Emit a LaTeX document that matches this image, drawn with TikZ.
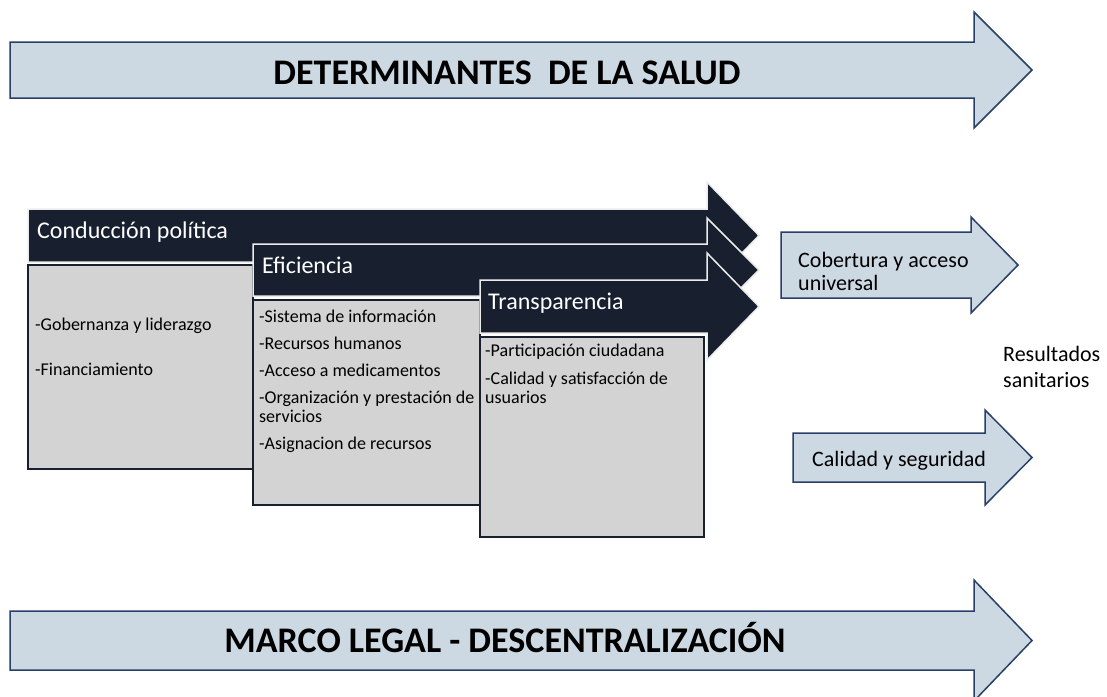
\documentclass[tikz,border=0pt]{standalone}
\usepackage{fontspec}
\setmainfont{Carlito}
\usepackage{tikz}
\definecolor{bandfill}{RGB}{204,216,226}
\definecolor{banddraw}{RGB}{40,64,104}
\definecolor{pillar}{RGB}{24,32,48}
\definecolor{boxfill}{RGB}{211,211,211}

\begin{document}
\begin{tikzpicture}[x=1pt, y=-1pt,
  band/.style={fill=bandfill, draw=banddraw, line width=1.5pt},
  pillararrow/.style={fill=pillar, draw=white!85!gray, line width=1.5pt},
  itembox/.style={fill=boxfill, draw=pillar, line width=2.5pt},
  title/.style={font=\bfseries\fontsize{36}{40}\selectfont, anchor=base, inner sep=0pt},
  header/.style={font=\fontsize{24}{26}\selectfont, text=white, anchor=base west, inner sep=0pt},
  item/.style={font=\fontsize{18}{19}\selectfont, anchor=base west, inner sep=0pt, align=left},
  result/.style={font=\fontsize{22}{23}\selectfont, anchor=base west, inner sep=0pt, align=left}]
\useasboundingbox (0,0) rectangle (1107,696);

% bands
\draw[band] (10,42) -- (974,42) -- (974,12) -- (1032,70) -- (974,128) -- (974,98) -- (10,98) -- cycle;
\node[title] (determinantes) at (507,84) {DETERMINANTES~~DE LA SALUD};
\draw[band] (10,611) -- (974,611) -- (974,580) -- (1032,640.5) -- (974,701) -- (974,670) -- (10,670) -- cycle;
\node[title] (marco) at (505,652) {MARCO LEGAL - DESCENTRALIZACIÓN};

% Conducción política
\draw[pillararrow] (28,209) -- (707,209) -- (707,182) -- (759,235.5) -- (707,289) -- (707,262) -- (28,262) -- cycle;
\node[header] (conduccion) at (37,238) {Conducción política};
\draw[itembox] (28,265) rectangle (253,469);
\node[item] (gobernanza) at (35,330) {-Gobernanza y liderazgo};
\node[item] (financiamiento) at (35,375) {-Financiamiento};

% Eficiencia
\draw[pillararrow] (253,244) -- (707,244) -- (707,218) -- (759,270) -- (707,322) -- (707,296) -- (253,296) -- cycle;
\node[header] (eficiencia) at (262,273) {Eficiencia};
\draw[itembox] (253,300) rectangle (480,505);
\node[item] (sistema) at (259,322) {-Sistema de información};
\node[item] (recursos) at (259,349) {-Recursos humanos};
\node[item] (acceso) at (259,376) {-Acceso a medicamentos};
\node[item] (organizacion) at (259,422) {-Organización y prestación de\\servicios};
\node[item] (asignacion) at (259,449.5) {-Asignacion de recursos};

% Transparencia
\draw[pillararrow] (480,280) -- (707,280) -- (707,253) -- (759,306.5) -- (707,360) -- (707,333) -- (480,333) -- cycle;
\node[header] (transparencia) at (488,309) {Transparencia};
\draw[itembox] (480,337) rectangle (704,537);
\node[item] (participacion) at (485,356.5) {-Participación ciudadana};
\node[item] (satisfaccion) at (485,403) {-Calidad y satisfacción de\\usuarios};

% resultados
\draw[band] (781,232) -- (971,232) -- (971,217) -- (1018,265) -- (971,313) -- (971,298) -- (781,298) -- cycle;
\node[result] (cobertura) at (798,290) {Cobertura y acceso\\universal};
\draw[band] (793,433) -- (985,433) -- (985,410) -- (1032,457.5) -- (985,505) -- (985,482) -- (793,482) -- cycle;
\node[result] (calidad) at (812,466) {Calidad y seguridad};
\node[result, font=\fontsize{22}{25.5}\selectfont] (resultados) at (1003,387) {Resultados\\sanitarios};
\end{tikzpicture}
\end{document}
